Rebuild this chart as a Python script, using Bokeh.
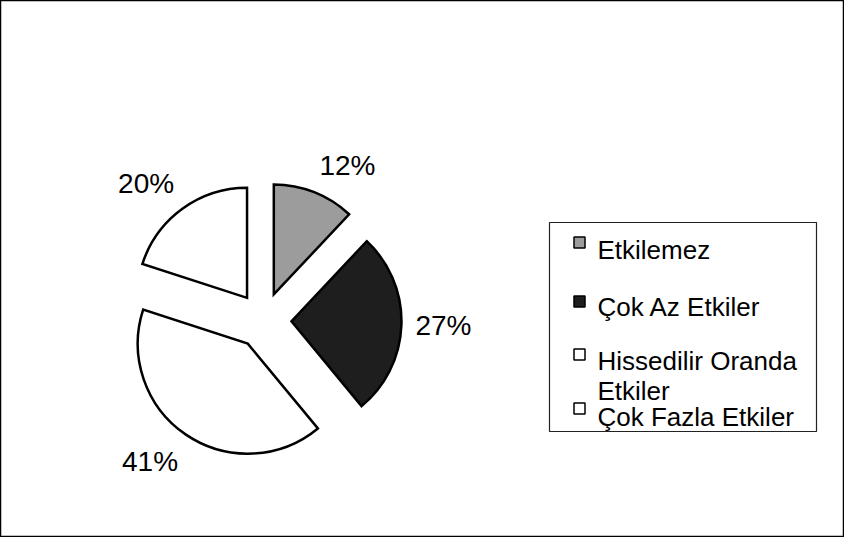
import numpy as np
from bokeh.plotting import figure
from bokeh.models import Range1d
from bokeh.core.properties import value
from bokeh.embed import file_html
from bokeh.resources import INLINE

# ---- data ----
categories = ["Etkilemez", "Çok Az Etkiler", "Hissedilir Oranda\nEtkiler", "Çok Fazla Etkiler"]
values = [12, 27, 41, 20]
pct_labels = ["12%", "27%", "41%", "20%"]
slice_colors = ["#9c9c9c", "#1e1e1e", "#ffffff", "#ffffff"]

# ---- layout (pixel based: x = px, y = -px) ----
W, H = 844, 537
FONT = "Liberation Sans"
cx, cy = 263, -320       # pie centre
R = 110                   # radius
EXPLODE = 28              # explosion distance
LABEL_R = 152             # label anchor distance
UPPER_PAD = 14            # extra lift for labels above the pie

p = figure(width=W, height=H, output_backend="svg", toolbar_location=None,
           x_range=Range1d(0, W), y_range=Range1d(-H, 0),
           min_border=0, x_axis_location=None, y_axis_location=None)
p.grid.visible = False
p.background_fill_color = "white"
p.border_fill_color = "white"
p.outline_line_color = "black"
p.outline_line_width = 1.5

vals = np.array(values, dtype=float)
frac = vals / vals.sum()
cum = np.concatenate([[0], np.cumsum(frac)[:-1]])
end_ang = np.pi / 2 - 2 * np.pi * cum
start_ang = end_ang - 2 * np.pi * frac
mid = (start_ang + end_ang) / 2
xs = cx + EXPLODE * np.cos(mid)
ys = cy + EXPLODE * np.sin(mid)

p.wedge(x=xs, y=ys, radius=R, start_angle=start_ang, end_angle=end_ang,
        direction="anticlock", fill_color=slice_colors,
        line_color="black", line_width=2.5, line_join="miter")

# percentage labels
for i, lab in enumerate(pct_labels):
    c, s = np.cos(mid[i]), np.sin(mid[i])
    lx = cx + LABEL_R * c
    ly = cy + LABEL_R * s
    align = "left" if c > 0.3 else ("right" if c < -0.3 else "center")
    if s > 0.3:
        base = "alphabetic"
        ly += UPPER_PAD
    elif s < -0.3:
        base = "top"
    else:
        base = "middle"
    p.text(x=[lx], y=[ly], text=[lab], text_font=value(FONT), text_font_size="28px",
           text_align=align, text_baseline=base, text_color="black")

# legend box
p.quad(left=[549], right=[816], top=[-222], bottom=[-431],
       fill_color="white", line_color="#222222", line_width=1.2)

row_marker_y = [-242, -301, -354, -408]
row_text_y = [-249, -306, -360, -416]
LINE_H = 30
legend_fill = ["#9c9c9c", "#1e1e1e", "#ffffff", "#ffffff"]
p.rect(x=[579] * 4, y=row_marker_y, width=11, height=11,
       fill_color=legend_fill, line_color="black", line_width=1.5)
for i, cat in enumerate(categories):
    lines = cat.split("\n")
    for j, ln in enumerate(lines):
        p.text(x=[597], y=[row_text_y[i] - j * LINE_H], text=[ln],
               text_font=value(FONT), text_font_size="26px",
               text_align="left", text_baseline="alphabetic", text_color="black")

open("out.html", "w").write(file_html(p, INLINE))
